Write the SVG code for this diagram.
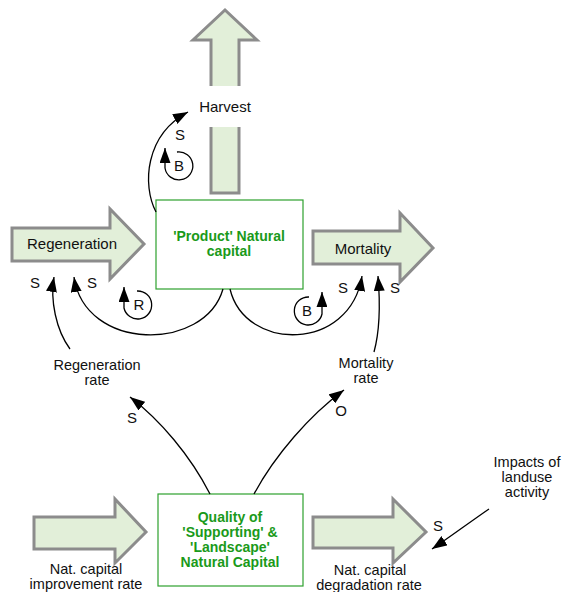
<svg xmlns="http://www.w3.org/2000/svg" width="562" height="592" viewBox="0 0 562 592">
<style>
.flow{fill:#e2efd9;stroke:#8c8c8c;stroke-width:3;stroke-linejoin:miter}
.box{fill:#fff;stroke:#2ea12e;stroke-width:1.2}
.t{font-family:"Liberation Sans",Arial,sans-serif;font-size:15px;fill:#111;text-anchor:middle}
.m{font-size:14.5px}
.g{font-family:"Liberation Sans",Arial,sans-serif;font-size:14px;font-weight:bold;fill:#1a9a1a;text-anchor:middle}
.c{fill:none;stroke:#000;stroke-width:1.3}
</style>
<defs>
<marker id="ah" markerWidth="15" markerHeight="11" refX="15" refY="5.5" orient="auto" markerUnits="userSpaceOnUse"><path d="M0,0 L15,5.5 L0,11 z" fill="#000"/></marker>
</defs>
<rect width="562" height="592" fill="#fff"/>
<g id="harvest">
<polygon class="flow" points="211,193 211,40 193,40 225,10 257,40 239,40 239,193"/>
<rect x="199" y="86" width="52" height="41" fill="#fff"/>
<text class="t" x="225" y="112">Harvest</text>
</g>
<g id="regeneration">
<polygon class="flow" points="12,228 110,228 110,209 144,244 110,279 110,261 12,261"/>
<text class="t" x="72" y="249">Regeneration</text>
</g>
<g id="mortality">
<polygon class="flow" points="313,231 400,231 400,213 433,248 400,282 400,264 313,264"/>
<text class="t" x="363" y="254">Mortality</text>
</g>
<g id="product">
<rect class="box" x="156" y="200" width="147" height="89"/>
<text class="g" x="229" y="241">'Product' Natural</text>
<text class="g" x="229" y="256">capital</text>
</g>
<g id="quality">
<rect class="box" x="158" y="494" width="145" height="92"/>
<text class="g" x="230" y="522">Quality of</text>
<text class="g" x="230" y="537">'Supporting' &amp;</text>
<text class="g" x="230" y="552">'Landscape'</text>
<text class="g" x="230" y="567">Natural Capital</text>
</g>
<g id="improvement">
<polygon class="flow" points="34,517 115,517 115,499 146,532 115,563 115,549 34,549"/>
<text class="t m" x="86" y="574">Nat. capital</text>
<text class="t m" x="86" y="589">improvement rate</text>
</g>
<g id="degradation">
<polygon class="flow" points="313,517 393,517 393,499 426,532 393,563 393,548 313,548"/>
<text class="t m" x="370" y="575">Nat. capital</text>
<text class="t m" x="369" y="590">degradation rate</text>
</g>
<g id="regen-rate">
<text class="t m" x="97" y="370">Regeneration</text>
<text class="t m" x="97" y="385">rate</text>
</g>
<g id="mort-rate">
<text class="t m" x="366" y="368">Mortality</text>
<text class="t m" x="366" y="383">rate</text>
</g>
<g id="impacts">
<text class="t m" x="527" y="467">Impacts of</text>
<text class="t m" x="527" y="482">landuse</text>
<text class="t m" x="527" y="497">activity</text>
</g>
<g id="connectors">
<path class="c" marker-end="url(#ah)" d="M156,212 C142,185 145,135 188,112"/>
<path class="c" marker-end="url(#ah)" d="M223,289 C205,352 85,352 74,277"/>
<path class="c" marker-end="url(#ah)" d="M70,349 C56,330 50,300 54,277"/>
<path class="c" marker-end="url(#ah)" d="M230,289 C245,352 350,352 362,276"/>
<path class="c" marker-end="url(#ah)" d="M374,352 C380,330 380,300 378,276"/>
<path class="c" marker-end="url(#ah)" d="M210,494 C190,455 160,420 130,397"/>
<path class="c" marker-end="url(#ah)" d="M254,494 C275,455 310,415 344,390"/>
<path class="c" marker-end="url(#ah)" d="M489,509 C470,522 450,537 432,549"/>
<path class="c" marker-end="url(#ah)" d="M177,152 A14,14 0 1 1 165,168 L165,148"/>
<path class="c" marker-end="url(#ah)" d="M137,291 A14,14 0 1 1 124,308 L124,287"/>
<path class="c" marker-end="url(#ah)" d="M309,297 A14,14 0 1 0 322,314 L322,292"/>
<text class="t" x="180" y="140">S</text>
<text class="t" x="179" y="171">B</text>
<text class="t" x="139" y="310">R</text>
<text class="t" x="307" y="316">B</text>
<text class="t" x="35" y="288">S</text>
<text class="t" x="92" y="288">S</text>
<text class="t" x="343" y="293">S</text>
<text class="t" x="395" y="293">S</text>
<text class="t" x="132" y="423">S</text>
<text class="t" x="341" y="416">O</text>
<text class="t" x="438" y="531">S</text>
</g>
</svg>
